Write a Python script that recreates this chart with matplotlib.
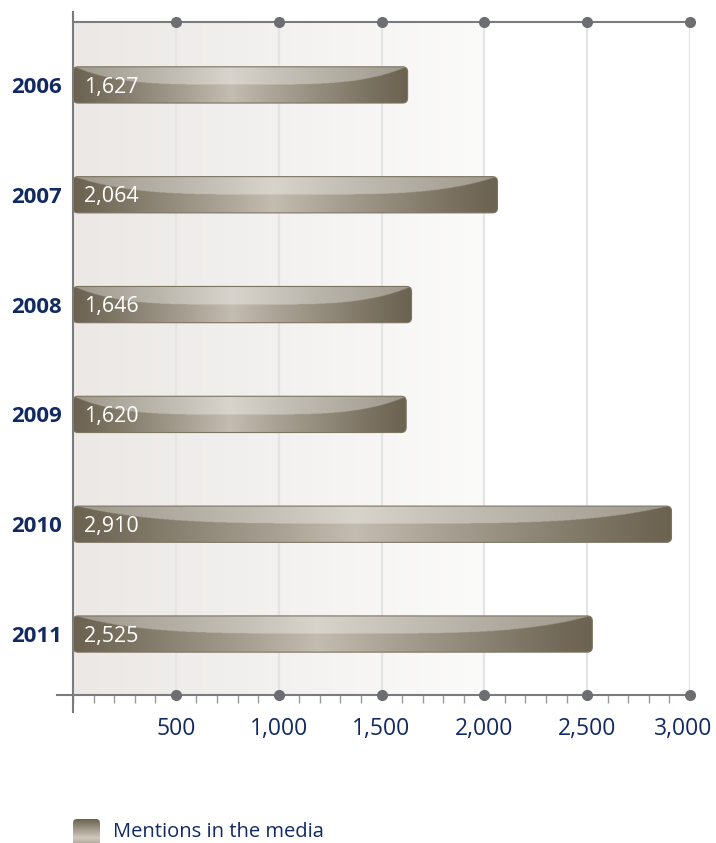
import numpy as np
import matplotlib
matplotlib.use('Agg')
import matplotlib.pyplot as plt
from matplotlib.patches import FancyBboxPatch
from matplotlib.colors import to_rgb
from matplotlib.ticker import MultipleLocator, FixedLocator
from matplotlib.lines import Line2D
from matplotlib.transforms import ScaledTranslation

# ---------------- data ----------------
years = ['2006', '2007', '2008', '2009', '2010', '2011']
mentions = [1627, 2064, 1646, 1620, 2910, 2525]
x_ticks = [500, 1000, 1500, 2000, 2500, 3000]
x_tick_labels = ['500', '1,000', '1,500', '2,000', '2,500', '3,000']
legend_label = 'Mentions in the media'

# ---------------- styling ----------------
FONT = ['Open Sans', 'DejaVu Sans']
NAVY = '#112a62'
AXIS_GRAY = '#7a7b7e'
DOT_GRAY = '#6d6e71'
GRID = '#e4e4e4'
DARK = np.array(to_rgb('#6b6250'))
LIGHT = np.array(to_rgb('#c3bcb0'))

W, H = 716, 843
fig = plt.figure(figsize=(W / 100, H / 100), dpi=100)
ax_l, ax_r, ax_t, ax_b = 73, 690, 22, 695
ax = fig.add_axes([ax_l / W, (H - ax_b) / H, (ax_r - ax_l) / W, (ax_b - ax_t) / H])

pos = np.arange(len(years))
YLIM = (5.555, -0.573)

# background gradient (light warm gray -> white)
bg = np.linspace(0, 1, 256)[None, :, None]
c0 = np.array(to_rgb('#ebe8e5')); c1 = np.array(to_rgb('#fbfbfa'))
bg_img = c0 + (c1 - c0) * bg
ax.imshow(bg_img, extent=(0, 2000, YLIM[0], YLIM[1]), aspect='auto', zorder=0,
          interpolation='bilinear')
ax.set_xlim(0, 3000)
ax.set_ylim(*YLIM)

# grid lines
for xv in x_ticks:
    ax.axvline(xv, color=GRID, lw=1.6, zorder=1)

# px -> data scale for rounded corners
xpp = 3000 / (ax_r - ax_l)
ypp = (YLIM[0] - YLIM[1]) / (ax_b - ax_t)
aspect = ypp / xpp
radius_px = 5

def bar_image(nw=600, nh=90):
    u = np.linspace(0, 1, nw)[None, :]
    v = np.linspace(0, 1, nh)[:, None]
    peak = 0.47
    t = np.where(u < peak, u / peak, (1 - u) / (1 - peak))
    t = np.clip(t, 0, 1) ** 1.1
    base = DARK + (LIGHT - DARK) * t[..., None]          # (1, nw, 3)
    depth = 0.5 * (1 - np.abs(2 * u - 1) ** 4)           # (1, nw)
    top = (v < depth)                                    # (nh, nw)
    hi = base + (1 - base) * 0.35
    img = np.where(top[..., None], hi, base)
    return img

bars = ax.barh(pos, mentions, height=0.33, color='none', edgecolor='none', zorder=2)
for rect, val in zip(bars, mentions):
    x0, y0 = rect.get_x(), rect.get_y()
    w, h = rect.get_width(), rect.get_height()
    patch = FancyBboxPatch((x0, y0), w, h,
                           boxstyle=f"round,pad=0,rounding_size={radius_px * xpp}",
                           mutation_aspect=aspect, facecolor='none',
                           edgecolor='#7d7462', lw=0.8, zorder=4)
    ax.add_patch(patch)
    im = ax.imshow(bar_image(), extent=(x0, x0 + w, y0 + h, y0), aspect='auto',
                   zorder=3, interpolation='bilinear')
    im.set_clip_path(patch)
    ax.annotate(f"{val:,}", (x0, y0 + h / 2), xytext=(8, -1.5), textcoords='offset points',
                ha='left', va='center', color='white', fontsize=15.5, family=FONT,
                zorder=5)

ax.set_xlim(0, 3000)
ax.set_ylim(*YLIM)

# spines / axis lines
for s in ax.spines.values():
    s.set_visible(False)
ax.add_line(Line2D([0, 1], [1, 1], transform=ax.transAxes, color=AXIS_GRAY, lw=1.5,
                   clip_on=False, zorder=6))
ax.add_line(Line2D([-16 / (ax_r - ax_l), 1], [0, 0], transform=ax.transAxes,
                   color=AXIS_GRAY, lw=1.5, clip_on=False, zorder=6))
ax.add_line(Line2D([0, 0], [-17 / (ax_b - ax_t), 1 + 10 / (ax_b - ax_t)],
                   transform=ax.transAxes, color=AXIS_GRAY, lw=1.5, clip_on=False,
                   zorder=6))

# dots at major ticks (top and bottom)
tr = ax.get_xaxis_transform()
ax.plot(x_ticks, [1] * len(x_ticks), 'o', color=DOT_GRAY, ms=7, transform=tr,
        clip_on=False, zorder=7)
ax.plot(x_ticks, [0] * len(x_ticks), 'o', color=DOT_GRAY, ms=7, transform=tr,
        clip_on=False, zorder=7)

# ticks
ax.xaxis.set_major_locator(FixedLocator(x_ticks))
ax.set_xticklabels(x_tick_labels)
ax.xaxis.set_minor_locator(MultipleLocator(100))
ax.tick_params(axis='x', which='major', length=0, pad=16, labelsize=16.5,
               labelcolor=NAVY)
ax.tick_params(axis='x', which='minor', length=5.5, width=1, color='#9a9a9a',
               direction='out')
xlabs = ax.get_xticklabels()
for lab in xlabs:
    lab.set_family(FONT)
xlabs[-1].set_transform(xlabs[-1].get_transform()
                        + ScaledTranslation(-0.07, 0, fig.dpi_scale_trans))

ax.set_yticks(pos)
ax.set_yticklabels(years)
ax.tick_params(axis='y', length=0, pad=8, labelsize=16, labelcolor=NAVY)
for lab in ax.get_yticklabels():
    lab.set_family(FONT)
    lab.set_fontweight('bold')

# legend
lax = fig.add_axes([73 / W, -3 / H, 27 / W, 27 / H])
lax.set_xlim(0, 1); lax.set_ylim(0, 1)
lax.axis('off')
vv = np.linspace(0, 1, 64)[:, None]
tt = np.clip(1 - np.abs(vv - 0.7) / 0.7, 0, 1)
sw = DARK + (np.array(to_rgb('#d0c9bd')) - DARK) * tt[..., None]
sw = np.repeat(sw, 8, axis=1)
sp = FancyBboxPatch((0, 0), 1, 1, boxstyle="round,pad=0,rounding_size=0.15",
                    facecolor='none', edgecolor='none', transform=lax.transAxes)
lax.add_patch(sp)
sim = lax.imshow(sw, extent=(0, 1, 0, 1), aspect='auto', interpolation='bilinear')
sim.set_clip_path(sp)
fig.text(113 / W, 1 - 832 / H, legend_label, ha='left', va='center', color=NAVY,
         fontsize=14.5, family=FONT)

fig.savefig('out.png', dpi=100)
